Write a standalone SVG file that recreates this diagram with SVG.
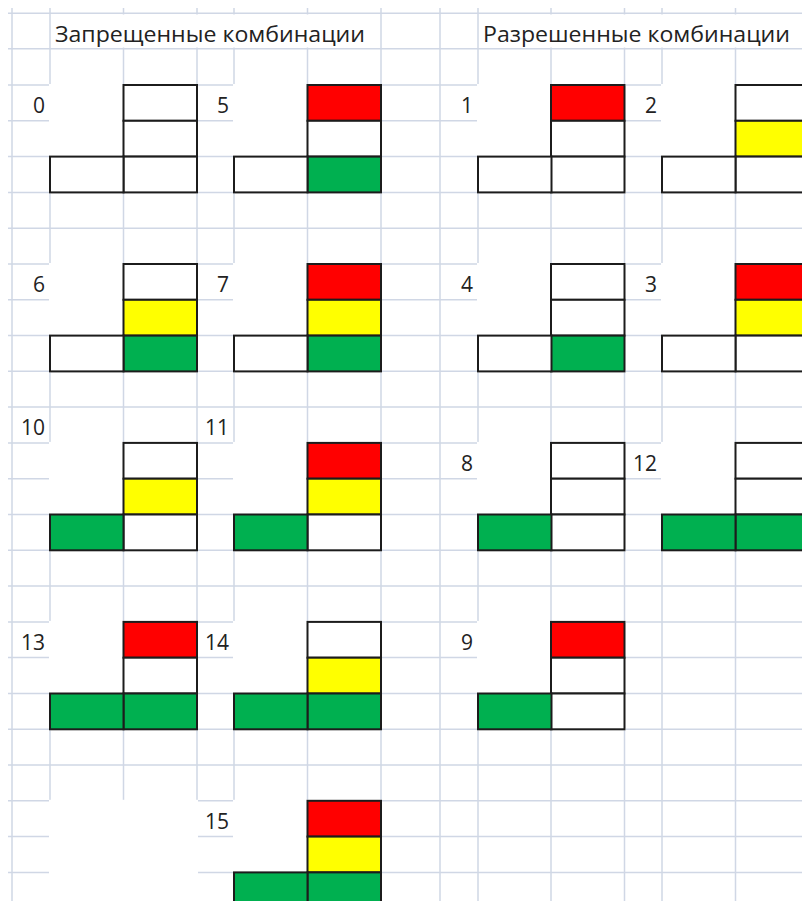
<svg xmlns="http://www.w3.org/2000/svg" width="802" height="901" viewBox="0 0 802 901">
<style>
.bg{fill:#fff}
.grid{stroke:#D0D7E5;stroke-width:1.5;fill:none}
.m{fill:#fff}
.c{stroke:#1c1c1c;stroke-width:2}
.W{fill:#fff}.R{fill:#FF0000}.Y{fill:#FFFF00}.G{fill:#00B050}
.t{font-family:"Open Sans","Liberation Sans",sans-serif;font-size:21px;fill:#222}
.n{font-family:"Open Sans","Liberation Sans",sans-serif;font-size:21px;fill:#222;text-anchor:end}
</style>
<rect class="bg" x="0" y="0" width="802" height="901"/>
<g id="grid">
<path class="grid" d="M8 13.3H802M8 48.7H802M8 85H802M8 120.8H802M8 156.6H802M8 192.4H802M8 228.2H802M8 264H802M8 299.7H802M8 335.5H802M8 371.3H802M8 407.1H802M8 442.9H802M8 478.7H802M8 514.5H802M8 550.3H802M8 586.1H802M8 621.9H802M8 657.6H802M8 693.4H802M8 729.2H802M8 765H802M8 800.8H802M8 836.6H802M8 872.4H802"/>
<path class="grid" d="M12 8V901M50 8V901M123.5 8V901M197 8V901M234 8V901M307.5 8V901M381 8V901M440 8V901M478 8V901M551 8V901M624.5 8V901M662 8V901M735.5 8V901"/>
<rect class="m" x="51" y="14.5" width="329" height="33"/>
<rect class="m" x="479" y="14.5" width="323" height="33"/>
<rect class="m" x="49" y="84" width="149" height="109.4"/>
<rect class="m" x="233" y="84" width="149" height="109.4"/>
<rect class="m" x="477" y="84" width="149" height="109.4"/>
<rect class="m" x="661" y="84" width="149" height="109.4"/>
<rect class="m" x="49" y="263" width="149" height="109.4"/>
<rect class="m" x="233" y="263" width="149" height="109.4"/>
<rect class="m" x="477" y="263" width="149" height="109.4"/>
<rect class="m" x="661" y="263" width="149" height="109.4"/>
<rect class="m" x="49" y="441.9" width="149" height="109.4"/>
<rect class="m" x="233" y="441.9" width="149" height="109.4"/>
<rect class="m" x="477" y="441.9" width="149" height="109.4"/>
<rect class="m" x="661" y="441.9" width="149" height="109.4"/>
<rect class="m" x="49" y="620.9" width="149" height="109.4"/>
<rect class="m" x="233" y="620.9" width="149" height="109.4"/>
<rect class="m" x="477" y="620.9" width="149" height="109.4"/>
<rect class="m" x="49" y="799.8" width="149" height="110"/>
<rect class="m" x="233" y="799.8" width="149" height="110"/>
</g>
<g id="titles">
<text class="t" x="55" y="42" textLength="310" lengthAdjust="spacingAndGlyphs">Запрещенные комбинации</text>
<text class="t" x="483" y="42" textLength="307" lengthAdjust="spacingAndGlyphs">Разрешенные комбинации</text>
</g>
<g id="fig0">
<text class="n" x="45" y="113">0</text>
<rect class="c W" x="123.5" y="85" width="73.5" height="35.8"/>
<rect class="c W" x="123.5" y="120.8" width="73.5" height="35.8"/>
<rect class="c W" x="123.5" y="156.6" width="73.5" height="35.8"/>
<rect class="c W" x="50" y="156.6" width="73.5" height="35.8"/>
</g>
<g id="fig5">
<text class="n" x="229" y="113">5</text>
<rect class="c R" x="307.5" y="85" width="73.5" height="35.8"/>
<rect class="c W" x="307.5" y="120.8" width="73.5" height="35.8"/>
<rect class="c G" x="307.5" y="156.6" width="73.5" height="35.8"/>
<rect class="c W" x="234" y="156.6" width="73.5" height="35.8"/>
</g>
<g id="fig1">
<text class="n" x="473" y="113">1</text>
<rect class="c R" x="551" y="85" width="73.5" height="35.8"/>
<rect class="c W" x="551" y="120.8" width="73.5" height="35.8"/>
<rect class="c W" x="551" y="156.6" width="73.5" height="35.8"/>
<rect class="c W" x="478" y="156.6" width="73.5" height="35.8"/>
</g>
<g id="fig2">
<text class="n" x="657" y="113">2</text>
<rect class="c W" x="735.5" y="85" width="73.5" height="35.8"/>
<rect class="c Y" x="735.5" y="120.8" width="73.5" height="35.8"/>
<rect class="c W" x="735.5" y="156.6" width="73.5" height="35.8"/>
<rect class="c W" x="662" y="156.6" width="73.5" height="35.8"/>
</g>
<g id="fig6">
<text class="n" x="45" y="292">6</text>
<rect class="c W" x="123.5" y="264" width="73.5" height="35.8"/>
<rect class="c Y" x="123.5" y="299.8" width="73.5" height="35.8"/>
<rect class="c G" x="123.5" y="335.6" width="73.5" height="35.8"/>
<rect class="c W" x="50" y="335.6" width="73.5" height="35.8"/>
</g>
<g id="fig7">
<text class="n" x="229" y="292">7</text>
<rect class="c R" x="307.5" y="264" width="73.5" height="35.8"/>
<rect class="c Y" x="307.5" y="299.8" width="73.5" height="35.8"/>
<rect class="c G" x="307.5" y="335.6" width="73.5" height="35.8"/>
<rect class="c W" x="234" y="335.6" width="73.5" height="35.8"/>
</g>
<g id="fig4">
<text class="n" x="473" y="292">4</text>
<rect class="c W" x="551" y="264" width="73.5" height="35.8"/>
<rect class="c W" x="551" y="299.8" width="73.5" height="35.8"/>
<rect class="c G" x="551" y="335.6" width="73.5" height="35.8"/>
<rect class="c W" x="478" y="335.6" width="73.5" height="35.8"/>
</g>
<g id="fig3">
<text class="n" x="657" y="292">3</text>
<rect class="c R" x="735.5" y="264" width="73.5" height="35.8"/>
<rect class="c Y" x="735.5" y="299.8" width="73.5" height="35.8"/>
<rect class="c W" x="735.5" y="335.6" width="73.5" height="35.8"/>
<rect class="c W" x="662" y="335.6" width="73.5" height="35.8"/>
</g>
<g id="fig10">
<text class="n" x="45" y="435">10</text>
<rect class="c W" x="123.5" y="442.9" width="73.5" height="35.8"/>
<rect class="c Y" x="123.5" y="478.7" width="73.5" height="35.8"/>
<rect class="c W" x="123.5" y="514.5" width="73.5" height="35.8"/>
<rect class="c G" x="50" y="514.5" width="73.5" height="35.8"/>
</g>
<g id="fig11">
<text class="n" x="229" y="435">11</text>
<rect class="c R" x="307.5" y="442.9" width="73.5" height="35.8"/>
<rect class="c Y" x="307.5" y="478.7" width="73.5" height="35.8"/>
<rect class="c W" x="307.5" y="514.5" width="73.5" height="35.8"/>
<rect class="c G" x="234" y="514.5" width="73.5" height="35.8"/>
</g>
<g id="fig8">
<text class="n" x="473" y="471">8</text>
<rect class="c W" x="551" y="442.9" width="73.5" height="35.8"/>
<rect class="c W" x="551" y="478.7" width="73.5" height="35.8"/>
<rect class="c W" x="551" y="514.5" width="73.5" height="35.8"/>
<rect class="c G" x="478" y="514.5" width="73.5" height="35.8"/>
</g>
<g id="fig12">
<text class="n" x="657" y="471">12</text>
<rect class="c W" x="735.5" y="442.9" width="73.5" height="35.8"/>
<rect class="c W" x="735.5" y="478.7" width="73.5" height="35.8"/>
<rect class="c G" x="735.5" y="514.5" width="73.5" height="35.8"/>
<rect class="c G" x="662" y="514.5" width="73.5" height="35.8"/>
</g>
<g id="fig13">
<text class="n" x="45" y="650">13</text>
<rect class="c R" x="123.5" y="621.9" width="73.5" height="35.8"/>
<rect class="c W" x="123.5" y="657.7" width="73.5" height="35.8"/>
<rect class="c G" x="123.5" y="693.5" width="73.5" height="35.8"/>
<rect class="c G" x="50" y="693.5" width="73.5" height="35.8"/>
</g>
<g id="fig14">
<text class="n" x="229" y="650">14</text>
<rect class="c W" x="307.5" y="621.9" width="73.5" height="35.8"/>
<rect class="c Y" x="307.5" y="657.7" width="73.5" height="35.8"/>
<rect class="c G" x="307.5" y="693.5" width="73.5" height="35.8"/>
<rect class="c G" x="234" y="693.5" width="73.5" height="35.8"/>
</g>
<g id="fig9">
<text class="n" x="473" y="650">9</text>
<rect class="c R" x="551" y="621.9" width="73.5" height="35.8"/>
<rect class="c W" x="551" y="657.7" width="73.5" height="35.8"/>
<rect class="c W" x="551" y="693.5" width="73.5" height="35.8"/>
<rect class="c G" x="478" y="693.5" width="73.5" height="35.8"/>
</g>
<g id="fig15">
<text class="n" x="229" y="829">15</text>
<rect class="c R" x="307.5" y="800.8" width="73.5" height="35.8"/>
<rect class="c Y" x="307.5" y="836.6" width="73.5" height="35.8"/>
<rect class="c G" x="307.5" y="872.4" width="73.5" height="35.8"/>
<rect class="c G" x="234" y="872.4" width="73.5" height="35.8"/>
</g>
</svg>
